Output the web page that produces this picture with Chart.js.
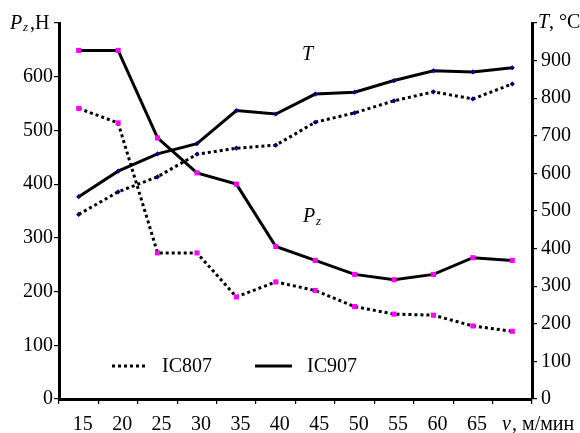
<!DOCTYPE html>
<html>
<head>
<meta charset="utf-8">
<script src="https://cdn.jsdelivr.net/npm/chart.js@4/dist/chart.umd.min.js"></script>
<style>
    body { margin: 0; background: #fff; }
    #wrap { width: 580px; height: 433px; position: relative; }
</style>
</head>
<body>
<div id="wrap"><canvas id="chart"></canvas></div>
<script>
// данные
const speeds = ['15', '20', '25', '30', '35', '40', '45', '50', '55', '60', '65', '70'];
const pzIC807 = [541, 514, 272, 272, 190, 218, 202, 172, 158, 156, 136, 126];
const pzIC907 = [649, 649, 486, 421, 400, 284, 258, 232, 222, 232, 263, 258];
const tIC807 = [491, 551, 591, 651, 667, 675, 736, 761, 793, 817, 798, 838];
const tIC907 = [538, 606, 652, 679, 767, 758, 811, 816, 847, 873, 870, 881];
const legendNames = ['IC807', 'IC907'];

const serif = "'Liberation Serif', 'Times New Roman', serif";
const tickFont = { family: serif, size: 20 };

// подписи и легенда
const textPlugin = {
    id: 'texts',
    afterDraw(chart) {
        const ctx = chart.ctx;
        const a = chart.chartArea;
        ctx.save();
        ctx.fillStyle = '#000';
        ctx.textBaseline = 'alphabetic';
        ctx.textAlign = 'left';

        // Pz,H
        ctx.font = 'italic 20px ' + serif;
        ctx.fillText('P', 10, 29);
        ctx.font = 'italic 13px ' + serif;
        ctx.fillText('z', 23, 31);
        ctx.font = '20px ' + serif;
        ctx.fillText(',H', 30, 29);

        // T, °C
        ctx.font = 'italic 20px ' + serif;
        ctx.fillText('T', a.right + 6, 28);
        ctx.font = '20px ' + serif;
        ctx.fillText(', °C', a.right + 17, 28);

        // v, м/мин
        ctx.font = 'italic 20px ' + serif;
        ctx.fillText('v', 502, 430);
        ctx.font = '20px ' + serif;
        ctx.fillText(', м/мин', 512, 430);

        // T и Pz на поле
        ctx.font = 'italic 20px ' + serif;
        ctx.fillText('T', 302, 60);
        ctx.fillText('P', 303, 222);
        ctx.font = 'italic 13px ' + serif;
        ctx.fillText('z', 316, 225);

        // легенда
        const ly = 366;
        ctx.strokeStyle = '#000';
        ctx.lineWidth = 3;
        ctx.setLineDash([3, 3]);
        ctx.beginPath();
        ctx.moveTo(112, ly);
        ctx.lineTo(148, ly);
        ctx.stroke();
        ctx.setLineDash([]);
        ctx.beginPath();
        ctx.moveTo(255, ly);
        ctx.lineTo(292, ly);
        ctx.stroke();
        ctx.font = '20px ' + serif;
        ctx.textBaseline = 'middle';
        ctx.fillText(legendNames[0], 162, ly + 1);
        ctx.fillText(legendNames[1], 307, ly + 1);
        ctx.restore();
    }
};

function pzSet(label, data, dash) {
    return {
        label: label,
        data: data,
        yAxisID: 'y',
        borderColor: '#000',
        borderWidth: 3,
        borderDash: dash,
        pointStyle: 'rect',
        pointRadius: 3.6,
        pointBackgroundColor: '#ff00ff',
        pointBorderColor: '#ff00ff',
        pointBorderWidth: 0,
        tension: 0
    };
}

function tSet(label, data, dash) {
    return {
        label: label,
        data: data,
        yAxisID: 'y1',
        borderColor: '#000',
        borderWidth: 3,
        borderDash: dash,
        pointStyle: 'rectRot',
        pointRadius: 2.6,
        pointBackgroundColor: '#000080',
        pointBorderColor: '#000080',
        pointBorderWidth: 0,
        tension: 0
    };
}

new Chart('chart', {
    type: 'line',
    data: {
        labels: speeds,
        datasets: [
            tSet('T ' + legendNames[0], tIC807, [3, 3]),
            tSet('T ' + legendNames[1], tIC907, []),
            pzSet('Pz ' + legendNames[0], pzIC807, [3, 3]),
            pzSet('Pz ' + legendNames[1], pzIC907, [])
        ]
    },
    options: {
        responsive: true,
        maintainAspectRatio: false,
        animation: false,
        layout: { padding: { top: 23, left: 0, right: 0, bottom: 0 } },
        plugins: {
            legend: { display: false },
            tooltip: { enabled: false }
        },
        scales: {
            x: {
                type: 'category',
                offset: true,
                grid: { offset: true, drawOnChartArea: false, tickLength: 5, color: '#000', lineWidth: 1.2 },
                border: { color: '#000', width: 3 },
                ticks: {
                    font: tickFont,
                    color: '#000',
                    padding: 9,
                    labelOffset: 4,
                    maxRotation: 0,
                    autoSkip: false,
                    callback: (v, i) => i === speeds.length - 1 ? '' : speeds[i]
                },
                afterFit: s => { s.height = 34; }
            },
            y: {
                position: 'left',
                min: 0,
                max: 700,
                grid: { drawOnChartArea: false, tickLength: 5, color: '#000', lineWidth: 1.2 },
                border: { color: '#000', width: 3 },
                ticks: {
                    stepSize: 100,
                    font: tickFont,
                    color: '#000',
                    padding: 1,
                    callback: v => v === 700 ? '' : v
                },
                afterFit: s => { s.width = 59; }
            },
            y1: {
                position: 'right',
                min: 0,
                max: 1000,
                grid: { drawOnChartArea: false, tickLength: 5, color: '#000', lineWidth: 1.2 },
                border: { color: '#000', width: 3 },
                ticks: {
                    stepSize: 100,
                    font: tickFont,
                    color: '#000',
                    padding: 4,
                    callback: v => v === 1000 ? '' : v
                },
                afterFit: s => { s.width = 48; }
            }
        }
    },
    plugins: [textPlugin]
});
</script>
</body>
</html>
